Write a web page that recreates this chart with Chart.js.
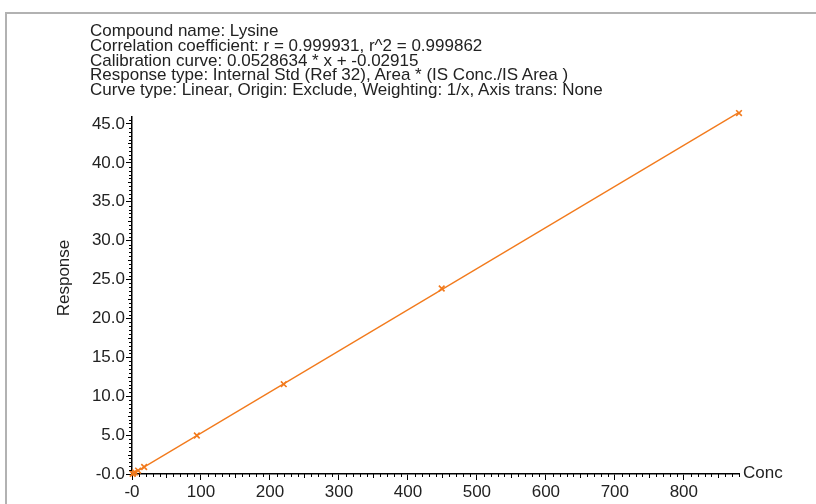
<!DOCTYPE html>
<html>
<head>
<meta charset="utf-8">
<script src="https://cdn.jsdelivr.net/npm/chart.js@4.4.0/dist/chart.umd.min.js"></script>
<style>
  html, body { margin: 0; padding: 0; background: #fff; }
  #wrap { position: relative; width: 816px; height: 504px; overflow: hidden; }
  #frame { position: absolute; left: 5px; top: 12px; width: 820px; height: 500px;
           border-top: 2px solid #b2b2b2; border-left: 2px solid #b2b2b2; }
  #info { position: absolute; left: 90px; top: 24px; color: #222; white-space: pre;
          font: 17px "Liberation Sans", Arial, sans-serif; line-height: 14.8px; }
  #chart { position: absolute; left: 0; top: 0; }
</style>
</head>
<body>
<div id="wrap">
  <div id="frame"></div>
  <canvas id="chart" width="816" height="504"></canvas>
  <div id="info"></div>
</div>
<script>
// calibration header
const infoLines = [
  'Compound name: Lysine',
  'Correlation coefficient: r = 0.999931, r^2 = 0.999862',
  'Calibration curve: 0.0528634 * x + -0.02915',
  'Response type: Internal Std (Ref 32), Area * (IS Conc./IS Area )',
  'Curve type: Linear, Origin: Exclude, Weighting: 1/x, Axis trans: None'
];

// standards
const concLevels = [0.9, 1.8, 4.4, 8.8, 17.6, 94, 220, 449, 880];
const responses  = [0.02, 0.07, 0.2, 0.44, 0.9, 4.95, 11.55, 23.85, 46.4];

// fitted curve
const slope = 0.0528634;
const intercept = -0.02915;

// axes
const xTickValues = [0, 100, 200, 300, 400, 500, 600, 700, 800];
const xTickLabels = ['-0', '100', '200', '300', '400', '500', '600', '700', '800'];
const yTickValues = [0, 5, 10, 15, 20, 25, 30, 35, 40, 45];
const yTickLabels = ['-0.0', '5.0', '10.0', '15.0', '20.0', '25.0', '30.0', '35.0', '40.0', '45.0'];

document.getElementById('info').textContent = infoLines.join('\n');

const ORANGE = '#f27a1c';
const FONT = '"Liberation Sans", Arial, sans-serif';

const fitX = [concLevels[0], concLevels[concLevels.length - 1]];
const fitPoints = fitX.map(x => ({ x: x, y: slope * x + intercept }));
const stdPoints = concLevels.map((x, i) => ({ x: x, y: responses[i] }));

// minor ticks + axis titles
const axisDecor = {
  id: 'axisDecor',
  afterDraw(chart) {
    const { ctx, chartArea: a, scales: { x, y } } = chart;
    ctx.save();
    ctx.strokeStyle = '#000';
    ctx.lineWidth = 1;
    ctx.beginPath();
    for (let v = 10; v <= x.max; v += 10) {
      if (v % 100 === 0) continue;
      const px = Math.round(x.getPixelForValue(v)) + 0.5;
      const len = v % 50 === 0 ? 4 : 3;
      ctx.moveTo(px, a.bottom);
      ctx.lineTo(px, a.bottom + len);
    }
    for (let i = 1; i * 0.5 <= y.max; i++) {
      if (i % 10 === 0) continue;
      const py = Math.round(y.getPixelForValue(i * 0.5)) + 0.5;
      const len = i % 5 === 0 ? 4 : 3;
      ctx.moveTo(a.left, py);
      ctx.lineTo(a.left - len, py);
    }
    ctx.stroke();

    ctx.fillStyle = '#222';
    ctx.font = '17px ' + FONT;
    ctx.textBaseline = 'middle';
    ctx.textAlign = 'left';
    ctx.fillText('Conc', a.right + 4, a.bottom - 1);

    ctx.translate(64, 278);
    ctx.rotate(-Math.PI / 2);
    ctx.textAlign = 'center';
    ctx.fillText('Response', 0, 0);
    ctx.restore();
  }
};

new Chart(document.getElementById('chart'), {
  type: 'scatter',
  data: {
    datasets: [
      {
        label: 'Fit',
        data: fitPoints,
        showLine: true,
        borderColor: ORANGE,
        borderWidth: 1.3,
        pointRadius: 0,
        clip: false
      },
      {
        label: 'Standards',
        data: stdPoints,
        pointStyle: 'crossRot',
        pointRadius: 4,
        borderColor: ORANGE,
        backgroundColor: ORANGE,
        pointBorderWidth: 1.6,
        clip: false
      }
    ]
  },
  options: {
    responsive: false,
    animation: false,
    events: [],
    layout: { padding: { top: 117, right: 77, left: 0, bottom: 0 } },
    plugins: {
      legend: { display: false },
      tooltip: { enabled: false },
      title: { display: false }
    },
    scales: {
      x: {
        type: 'linear',
        min: 0,
        max: 880,
        afterBuildTicks: s => { s.ticks = xTickValues.map(v => ({ value: v })); },
        afterFit: s => { s.height = 30; },
        ticks: {
          autoSkip: false,
          maxRotation: 0,
          padding: 2,
          color: '#222',
          font: { family: FONT, size: 17 },
          callback: (v, i) => xTickLabels[i]
        },
        grid: { display: true, drawOnChartArea: false, drawTicks: true, tickLength: 6, color: '#000' },
        border: { display: true, color: '#000', width: 1.5 }
      },
      y: {
        type: 'linear',
        min: 0,
        max: 45.9,
        afterBuildTicks: s => { s.ticks = yTickValues.map(v => ({ value: v })); },
        afterFit: s => { s.width = 132; },
        ticks: {
          autoSkip: false,
          padding: 1,
          color: '#222',
          font: { family: FONT, size: 17 },
          callback: (v, i) => yTickLabels[i]
        },
        grid: { display: true, drawOnChartArea: false, drawTicks: true, tickLength: 6, color: '#000' },
        border: { display: true, color: '#000', width: 1.5 }
      }
    }
  },
  plugins: [axisDecor]
});
</script>
</body>
</html>
